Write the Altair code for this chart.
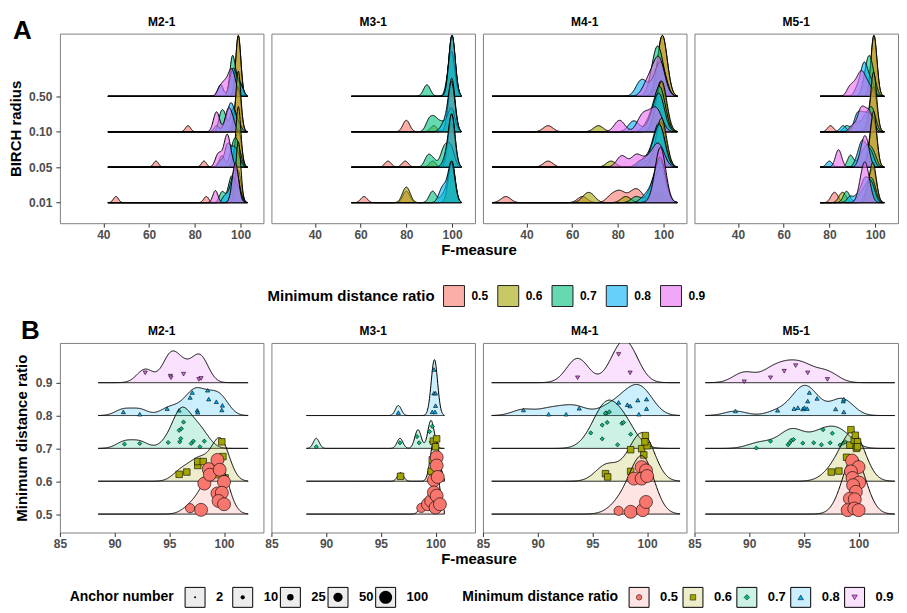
import altair as alt
import pandas as pd

# ---------------- categories / labels ----------------
PANELS = ["M2-1", "M3-1", "M4-1", "M5-1"]
RATIO_LABELS = ["0.5", "0.6", "0.7", "0.8", "0.9"]
RATIO_COLORS = ["#F8766D", "#A3A500", "#00BF7D", "#00B0F6", "#E76BF3"]
RATIO_SHAPES = ["circle", "square", "diamond", "triangle-up", "triangle-down"]
RADIUS_LABELS = ["0.01", "0.05", "0.10", "0.50"]
ANCHORS = [2, 10, 25, 50, 100]
A_TICKS = [40, 60, 80, 100]
B_TICKS = [85, 90, 95, 100]
B_YTICKS = [0.5, 0.6, 0.7, 0.8, 0.9]

# ---------------- Panel A: F-measure values per BIRCH radius, lists per ratio 0.5..0.9 ----------------
A_M2_1 = {
    "0.50": [[98.8, 98.9, 99.0, 99.0, 99.0, 99.0, 99.1, 99.1, 99.2, 99.3],
             [98.8, 98.9, 99.0, 99.0, 99.0, 99.0, 99.1, 99.1, 99.2, 98.9],
             [96.0, 96.2, 96.3, 96.4, 96.5, 96.8, 97.5, 98.5, 99.5, 100.5],
             [91.0, 91.6, 95.5, 96.0, 96.5, 97.0, 97.5, 98.0, 99.5, 100.6],
             [90.5, 92.0, 93.0, 94.0, 95.0, 95.5, 96.0, 96.5, 97.0, 98.0]],
    "0.10": [[77.0, 97.0, 98.0, 98.5, 99.0, 99.0, 99.0, 99.2, 99.5, 100.0],
             [98.7, 98.9, 99.0, 99.0, 99.0, 99.1, 99.1, 99.2, 99.3, 98.9],
             [91.0, 91.5, 92.0, 93.0, 93.5, 96.0, 96.5, 97.0, 97.5, 98.5],
             [89.5, 93.0, 94.5, 95.0, 95.5, 96.0, 96.5, 97.0, 98.0, 99.5],
             [88.5, 89.2, 89.8, 90.5, 93.5, 94.2, 94.8, 95.3, 96.0, 97.0]],
    "0.05": [[63.0, 84.0, 97.0, 98.0, 98.5, 99.0, 99.0, 99.5, 99.8, 100.0],
             [98.7, 98.9, 99.0, 99.0, 99.0, 99.1, 99.1, 99.2, 99.3, 99.0],
             [91.5, 92.2, 95.5, 96.5, 97.0, 97.5, 98.0, 98.5, 99.0, 100.0],
             [91.0, 93.5, 94.0, 94.5, 95.0, 96.0, 97.0, 97.5, 98.3, 99.5],
             [89.5, 90.5, 91.5, 93.0, 93.5, 94.0, 94.2, 94.5, 95.0, 96.0]],
    "0.01": [[45.5, 85.0, 96.0, 97.0, 98.0, 98.5, 99.0, 99.0, 99.5, 100.0],
             [98.8, 99.0, 99.0, 99.1, 99.2, 99.0, 99.0, 98.9, 99.1, 99.0],
             [91.5, 92.5, 95.0, 95.5, 96.0, 96.5, 97.0, 98.0, 99.0, 100.0],
             [93.0, 95.0, 96.0, 96.8, 97.3, 97.6, 98.0, 98.3, 98.8, 99.6],
             [88.8, 89.2, 96.5, 97.0, 97.3, 97.6, 97.9, 98.2, 98.5, 99.0]],
}
A_M3_1 = {
    "0.50": [[99.5, 99.8, 99.9, 100.0, 100.0, 100.0, 100.0, 100.0, 100.1, 100.2],
             [99.8, 99.9, 100.0, 100.0, 100.0, 100.0, 100.0, 100.0, 100.1, 100.0],
             [88.5, 89.5, 98.5, 99.0, 99.5, 100.0, 100.0, 100.0, 100.0, 100.2],
             [99.8, 99.9, 100.0, 100.0, 100.0, 100.0, 100.0, 100.0, 100.1, 100.2]],
    "0.10": [[79.5, 80.5, 99.0, 99.5, 100.0, 100.0, 100.0, 100.0, 100.0, 100.0],
             [92.0, 99.0, 99.5, 100.0, 100.0, 100.0, 100.0, 100.0, 100.0, 100.0],
             [89.5, 90.5, 92.0, 93.0, 95.0, 97.0, 99.0, 100.0, 100.0, 100.0],
             [96.0, 98.0, 99.0, 99.5, 100.0, 100.0, 100.0, 100.0, 100.0, 100.0]],
    "0.05": [[72.0, 79.5, 98.0, 99.0, 99.5, 100.0, 100.0, 100.0, 100.0, 100.0],
             [91.5, 99.0, 99.5, 100.0, 100.0, 100.0, 100.0, 100.0, 100.0, 100.0],
             [89.0, 90.0, 92.0, 95.5, 96.5, 97.0, 98.0, 99.0, 100.0, 100.0],
             [97.0, 98.5, 99.5, 100.0, 100.0, 100.0, 100.0, 100.0, 100.0, 100.0]],
    "0.01": [[61.5, 79.5, 80.5, 99.0, 99.5, 100.0, 100.0, 100.0, 100.0, 100.0],
             [79.0, 80.0, 81.0, 99.0, 100.0, 100.0, 100.0, 100.0, 100.0, 100.0],
             [91.0, 92.0, 96.0, 98.0, 99.0, 100.0, 100.0, 100.0, 100.0, 100.0],
             [95.0, 96.0, 97.0, 98.5, 99.5, 100.0, 100.0, 100.0, 100.0, 100.0]],
}
A_M4_1 = {
    "0.50": [[99.0, 99.3, 99.5, 99.5, 99.6, 99.5, 99.7, 99.4, 99.5, 99.5],
             [99.0, 99.3, 99.5, 99.5, 99.6, 99.5, 99.7, 99.4, 99.5, 99.8],
             [95.0, 96.0, 96.5, 97.0, 97.0, 97.5, 98.0, 98.5, 99.0, 100.0],
             [89.0, 90.5, 91.5, 95.0, 97.0, 98.0, 98.5, 99.0, 99.5, 100.0],
             [92.0, 93.5, 95.0, 96.0, 97.0, 97.5, 98.0, 98.5, 99.0, 100.0]],
    "0.10": [[49.5, 97.0, 98.0, 98.5, 99.0, 99.5, 99.5, 100.0, 99.0, 98.0],
             [71.5, 97.0, 98.0, 99.0, 99.5, 99.5, 99.5, 99.8, 100.0, 99.0],
             [93.0, 95.0, 96.5, 97.5, 98.0, 98.0, 98.5, 99.0, 99.5, 100.0],
             [86.0, 88.0, 94.0, 96.0, 97.0, 97.5, 98.0, 98.5, 99.0, 99.5],
             [80.0, 81.5, 89.5, 91.0, 92.0, 94.0, 95.5, 96.5, 97.5, 98.5]],
    "0.05": [[49.5, 92.0, 97.0, 98.0, 98.5, 99.0, 99.5, 99.5, 100.0, 99.0],
             [77.0, 96.0, 98.0, 98.5, 99.0, 99.5, 99.5, 99.8, 100.0, 99.0],
             [91.0, 94.0, 96.0, 97.0, 97.5, 98.0, 98.0, 98.5, 99.0, 100.0],
             [90.0, 94.0, 96.0, 97.0, 97.5, 98.0, 98.5, 99.0, 99.5, 100.0],
             [81.0, 82.5, 87.5, 88.5, 92.0, 95.0, 96.5, 97.5, 98.5, 99.5]],
    "0.01": [[31.0, 64.5, 77.0, 80.0, 82.0, 86.0, 88.0, 90.0, 97.0, 99.0],
             [66.0, 68.5, 83.5, 95.0, 97.0, 98.0, 98.5, 99.0, 99.5, 100.0],
             [88.0, 94.0, 96.0, 97.0, 98.0, 98.5, 99.0, 99.0, 99.5, 100.0],
             [92.0, 95.0, 96.5, 97.5, 98.0, 98.5, 99.0, 99.0, 99.5, 100.0],
             [96.5, 97.5, 98.0, 98.3, 98.5, 98.7, 99.0, 99.3, 99.6, 100.0]],
}
A_M5_1 = {
    "0.50": [[99.2, 99.4, 99.5, 99.5, 99.6, 99.5, 99.4, 99.6, 99.5, 99.5],
             [99.2, 99.4, 99.5, 99.5, 99.6, 99.5, 99.4, 99.6, 99.5, 99.7],
             [95.0, 96.0, 96.5, 97.0, 97.2, 97.5, 98.0, 98.5, 99.0, 100.0],
             [92.0, 93.5, 94.5, 95.0, 95.2, 95.5, 96.0, 97.0, 98.0, 99.0],
             [88.5, 90.0, 91.5, 92.5, 93.5, 94.0, 94.5, 95.5, 96.5, 98.0]],
    "0.10": [[80.5, 97.0, 98.0, 98.5, 99.0, 99.5, 99.5, 99.5, 100.0, 100.0],
             [98.8, 99.0, 99.2, 99.3, 99.4, 99.5, 99.5, 99.6, 99.8, 99.0],
             [87.5, 91.0, 93.0, 95.0, 96.0, 97.0, 98.0, 98.5, 99.0, 100.0],
             [86.0, 91.5, 92.0, 93.0, 94.0, 95.0, 96.0, 97.0, 98.0, 99.0],
             [90.0, 92.5, 93.5, 94.0, 94.5, 95.5, 96.5, 97.0, 98.0, 99.0]],
    "0.05": [[97.0, 98.0, 98.5, 99.0, 99.0, 99.5, 99.5, 100.0, 100.0, 99.8],
             [98.0, 98.5, 99.0, 99.2, 99.4, 99.5, 99.5, 99.6, 99.8, 100.0],
             [89.0, 89.5, 93.0, 94.5, 95.5, 96.5, 97.0, 98.0, 99.0, 100.0],
             [80.0, 92.0, 93.5, 94.0, 94.5, 95.0, 96.0, 97.0, 98.0, 99.0],
             [83.5, 84.0, 84.5, 93.5, 94.5, 95.0, 95.5, 96.0, 96.5, 97.0]],
    "0.01": [[81.5, 83.0, 96.0, 97.5, 98.0, 98.5, 99.0, 99.5, 100.0, 100.0],
             [85.0, 86.5, 97.0, 98.0, 98.5, 99.0, 99.0, 99.5, 100.0, 99.5],
             [87.0, 88.0, 93.0, 95.0, 96.0, 97.0, 98.0, 98.5, 99.0, 100.0],
             [89.0, 92.0, 94.0, 95.0, 95.5, 96.0, 97.0, 98.0, 98.5, 99.5],
             [93.0, 94.0, 94.5, 95.0, 95.3, 95.6, 96.0, 96.5, 97.0, 98.0]],
}
A_DATA = [A_M2_1, A_M3_1, A_M4_1, A_M5_1]
A_EXTENT = [[42, 103], [56, 104], [25, 106], [76, 104]]
A_BW = [1.1, 1.4, 2.1, 1.3]

# ---------------- Panel B: (F-measure, vertical jitter, anchor number) per ratio ----------------
B_M2_1 = {
    "0.5": [(96.9, .018, 50), (97.9, .013, 100), (98.2, .093, 100), (98.6, .137, 100), (98.7, .12, 100),
            (99.4, .165, 100), (99.6, .135, 100), (100.0, .098, 100), (99.4, .063, 100), (99.8, .065, 100),
            (99.5, .04, 100), (100.0, .03, 100)],
    "0.6": [(95.9, .021, 25), (96.6, .028, 25), (97.6, .048, 25), (97.6, .06, 25), (98.1, .06, 25),
            (99.0, .03, 25), (99.3, .05, 25), (99.5, .02, 25), (99.7, .04, 25), (99.8, .12, 25),
            (99.9, .075, 25), (100.1, .01, 25)],
    "0.7": [(90.9, .013, 10), (92.3, .015, 10), (94.9, .018, 10), (95.9, .055, 10), (95.95, .02, 10),
            (96.1, .06, 10), (96.05, .03, 10), (96.3, .08, 10), (97.0, .015, 10), (97.2, .022, 10),
            (97.8, .005, 10), (98.2, .022, 10)],
    "0.8": [(90.8, .011, 10), (92.3, .004, 10), (94.8, .021, 10), (95.9, .016, 10), (96.9, .055, 10),
            (97.1, .07, 10), (97.55, .016, 10), (97.6, .01, 10), (98.5, .077, 10), (98.6, .05, 10),
            (99.3, .042, 10), (99.85, .031, 10), (99.8, .017, 10)],
    "0.9": [(92.8, .03, 10), (95.1, .02, 10), (95.15, .015, 10), (96.3, .026, 10), (97.7, .01, 10),
            (97.9, .013, 10)],
}
B_M3_1 = {
    "0.5": [(98.7, .019, 50), (99.3, .03, 100), (99.6, .04, 100), (99.85, .103, 100), (99.85, .066, 100),
            (100.0, .02, 100), (100.1, .173, 100), (100.1, .148, 100), (100.1, .056, 100), (100.2, .113, 100),
            (100.4, .03, 100)],
    "0.6": [(96.8, .015, 25), (99.6, .03, 25), (99.7, .065, 25), (99.8, .122, 25), (100.0, .105, 25),
            (100.1, .129, 25), (100.1, .043, 25), (100.3, .02, 25)],
    "0.7": [(89.1, .005, 10), (96.75, .017, 10), (98.3, .036, 10), (98.5, .017, 10), (99.45, .051, 10),
            (99.7, .067, 10), (99.6, .02, 10)],
    "0.8": [(96.6, .009, 10), (99.7, .011, 10), (99.85, .14, 10), (99.85, .068, 10), (100.0, .068, 10),
            (100.0, .03, 10), (99.95, .011, 10)],
}
B_M4_1 = {
    "0.5": [(97.4, .01, 50), (98.5, .007, 100), (99.6, .012, 100), (99.9, .037, 100), (99.5, .143, 100),
            (99.9, .133, 100), (98.8, .108, 100), (99.5, .108, 100), (100.0, .116, 100)],
    "0.6": [(96.2, .023, 25), (96.4, .013, 25), (98.5, .03, 25), (98.5, .096, 25), (99.5, .099, 25),
            (99.85, .139, 25), (100.0, .108, 25), (99.8, .12, 25), (99.7, .08, 25)],
    "0.7": [(94.85, .047, 10), (95.9, .029, 10), (95.9, .071, 10), (96.35, .079, 10), (96.2, .107, 10),
            (96.55, .111, 10), (97.7, .076, 10), (97.85, .079, 10), (97.3, .011, 10), (98.5, .043, 10)],
    "0.8": [(88.7, .017, 10), (91.0, .004, 10), (92.6, .004, 10), (93.8, .022, 10), (96.25, .009, 10),
            (97.4, .04, 10), (98.2, .033, 10), (98.45, .029, 10), (99.15, .047, 10), (99.95, .05, 10),
            (99.95, .021, 10), (99.25, .004, 10)],
    "0.9": [(93.65, .015, 10), (97.4, .086, 10), (98.45, .03, 10)],
}
B_M5_1 = {
    "0.5": [(99.4, .163, 100), (100.0, .143, 100), (99.3, .13, 100), (99.45, .11, 100), (100.05, .096, 100),
            (99.5, .088, 100), (99.75, .068, 100), (99.2, .047, 100), (99.65, .045, 100), (99.0, .012, 100),
            (99.6, .017, 100), (100.0, .012, 100)],
    "0.6": [(97.5, .028, 25), (98.2, .031, 25), (98.9, .073, 25), (99.2, .11, 25), (99.3, .157, 25),
            (99.6, .125, 25), (99.7, .14, 25), (99.8, .10, 25), (99.9, .12, 25), (99.9, .105, 25)],
    "0.7": [(90.65, .001, 10), (91.95, .022, 10), (93.55, .011, 10), (93.7, .017, 10), (93.85, .024, 10),
            (94.05, .027, 10), (94.9, .016, 10), (95.9, .017, 10), (96.6, .011, 10), (96.75, .057, 10),
            (97.4, .017, 10), (97.6, .046, 10), (98.3, .01, 10), (98.6, .016, 10), (98.8, .02, 10)],
    "0.8": [(88.75, .014, 10), (92.6, .016, 10), (94.1, .021, 10), (94.45, .024, 10), (94.9, .02, 10),
            (95.05, .024, 10), (95.3, .021, 10), (95.35, .044, 10), (95.5, .07, 10), (96.2, .052, 10),
            (97.9, .02, 10), (98.6, .044, 10), (98.65, .05, 10), (98.65, .011, 10)],
    "0.9": [(89.55, .003, 10), (91.95, .015, 10), (93.2, .035, 10), (94.25, .052, 10), (95.35, .03, 10),
            (97.15, .01, 10)],
}
B_DATA = [B_M2_1, B_M3_1, B_M4_1, B_M5_1]
B_EXTENT = [[88.5, 102.2], [88.2, 100.8], [85.8, 103.0], [86.0, 103.3]]
B_BW = [0.75, 0.27, 1.0, 1.0]

# ---------------- layout / style ----------------
FONT = "Liberation Sans"
PW, PH = 204, 190
A_XDOM = [21, 110]
A_YDOM = [-0.58, 4.77]
A_H = 1.72
B_XDOM = [85, 103.6]
B_YDOM = [0.444, 1.021]
B_H = [0.161, 0.17, 0.178, 0.178]

cscale = alt.Scale(domain=RATIO_LABELS, range=RATIO_COLORS)
shscale = alt.Scale(domain=RATIO_LABELS, range=RATIO_SHAPES)
szscale = alt.Scale(domain=[2, 100], range=[4, 169])


def frame_a(data):
    rows = []
    for rad in RADIUS_LABELS:
        for rl, vals in zip(RATIO_LABELS, data[rad]):
            for v in vals:
                rows.append({"radius": rad, "base": RADIUS_LABELS.index(rad), "rl": rl, "v": v})
    return pd.DataFrame(rows)


def frame_b(data):
    rows = []
    for rl, pts in data.items():
        for v, off, anc in pts:
            rows.append({"rl": rl, "base": float(rl), "v": v, "y": float(rl) + off, "anchor": anc})
    return pd.DataFrame(rows)


radius_expr = " : ".join(
    [f"datum.value === {i} ? '{lab}'" for i, lab in enumerate(RADIUS_LABELS[:-1])] + [f"'{RADIUS_LABELS[-1]}'"]
)


def label_mark(t, dx, dy, size, align="left", baseline="top"):
    return alt.Chart(pd.DataFrame({"t": [t]})).mark_text(
        align=align, baseline=baseline, fontSize=size, fontWeight="bold", color="black"
    ).encode(text="t:N", x=alt.value(dx), y=alt.value(dy))


def extras(i, letter, letter_dx, letter_dy):
    out = [label_mark(PANELS[i], PW / 2, -7.5, 12, align="center", baseline="alphabetic")]
    if i == 0:
        out.append(label_mark(letter, letter_dx, letter_dy, 26))
    if i == 1:
        out.append(label_mark("F-measure", PW + 4, PH + 20, 15, align="center"))
    return out


def panel_a(i):
    df = frame_a(A_DATA[i])
    x = alt.X("v:Q", scale=alt.Scale(domain=A_XDOM, nice=False, zero=False),
              axis=alt.Axis(title=None, values=A_TICKS, labelFlush=False))
    if i == 0:
        y = alt.Y("top:Q", scale=alt.Scale(domain=A_YDOM, nice=False, zero=False),
                  axis=alt.Axis(title="BIRCH radius", values=[0, 1, 2, 3], labelExpr=radius_expr, titlePadding=5))
    else:
        y = alt.Y("top:Q", scale=alt.Scale(domain=A_YDOM, nice=False, zero=False), axis=None)
    layers = []
    for rad in reversed(RADIUS_LABELS):
        layers.append(
            alt.Chart(df)
            .transform_density("v", groupby=["radius", "base", "rl"], extent=A_EXTENT[i],
                               bandwidth=A_BW[i], steps=400, as_=["v", "dens"])
            .transform_joinaggregate(maxd="max(dens)")
            .transform_filter(alt.datum.radius == rad)
            .transform_calculate(top=f"datum.base + datum.dens / datum.maxd * {A_H}")
            .mark_area(stroke="black", strokeWidth=1, fillOpacity=0.6, opacity=1, clip=True)
            .encode(x=x, y=y, y2="base:Q", fill=alt.Fill("rl:N", scale=cscale, legend=None))
        )
    layers += extras(i, "A", -47, -16)
    return alt.layer(*layers).properties(width=PW, height=PH)


def panel_b(i):
    data = B_DATA[i]
    df = frame_b(data)
    x = alt.X("v:Q", scale=alt.Scale(domain=B_XDOM, nice=False, zero=False),
              axis=alt.Axis(title=None, values=B_TICKS, labelFlush=False))
    ysc = alt.Scale(domain=B_YDOM, nice=False, zero=False)
    if i == 0:
        yax = alt.Axis(title="Minimum distance ratio", values=B_YTICKS, format=".1f", titlePadding=6)
    else:
        yax = None
    layers = []
    for rl in reversed(RATIO_LABELS):
        if rl not in data:
            continue
        layers.append(
            alt.Chart(df)
            .transform_density("v", groupby=["rl", "base"], extent=B_EXTENT[i],
                               bandwidth=B_BW[i], steps=400, as_=["v", "dens"])
            .transform_joinaggregate(maxd="max(dens)")
            .transform_filter(alt.datum.rl == rl)
            .transform_calculate(top=f"datum.base + datum.dens / datum.maxd * {B_H[i]}")
            .mark_area(stroke="black", strokeWidth=1, fillOpacity=0.2, opacity=1, clip=True)
            .encode(x=x, y=alt.Y("top:Q", scale=ysc, axis=yax), y2="base:Q",
                    fill=alt.Fill("rl:N", scale=cscale, legend=None))
        )
        layers.append(
            alt.Chart(df)
            .transform_filter(alt.datum.rl == rl)
            .mark_point(filled=True, stroke="black", strokeWidth=0.6, opacity=1)
            .encode(x=x, y=alt.Y("y:Q", scale=ysc, axis=yax),
                    fill=alt.Fill("rl:N", scale=cscale, legend=None),
                    shape=alt.Shape("rl:N", scale=shscale, legend=None),
                    size=alt.Size("anchor:Q", scale=szscale, legend=None))
        )
    layers += extras(i, "B", -39, -25)
    return alt.layer(*layers).properties(width=PW, height=PH)


def title_text(t, xr, yc, size):
    return alt.Chart(pd.DataFrame({"t": [t]})).mark_text(
        align="right", baseline="middle", fontSize=size, fontWeight="bold", color="black"
    ).encode(text="t:N", x=alt.value(xr), y=alt.value(yc))


# legend positions are measured from the left edge of the first panel
# ---------------- legend A ----------------
leg_df = pd.DataFrame({"rl": RATIO_LABELS})
xa_leg = alt.X("rl:N", scale=alt.Scale(type="point", domain=RATIO_LABELS, range=[395, 612.5], padding=0), axis=None)
legA_boxes = alt.Chart(leg_df).mark_square(size=441, fillOpacity=0.6, opacity=1, stroke="#222222",
                                           strokeWidth=1).encode(
    x=xa_leg, y=alt.value(12), fill=alt.Fill("rl:N", scale=cscale, legend=None))
legA_labels = alt.Chart(leg_df).mark_text(align="left", baseline="middle", dx=17.5, fontSize=12,
                                          fontWeight="bold", color="black").encode(
    x=xa_leg, y=alt.value(12), text="rl:N")
leg_a = alt.layer(legA_boxes, legA_labels, title_text("Minimum distance ratio", 375.5, 12, 15)).properties(
    width=700, height=24, view=alt.ViewBackground(fill="white", stroke="transparent"))

# ---------------- legend B ----------------
anc_df = pd.DataFrame({"anchor": ANCHORS, "al": [str(a) for a in ANCHORS]})
x_anc = alt.X("al:N", scale=alt.Scale(type="point", domain=[str(a) for a in ANCHORS], range=[135.5, 326.5], padding=0),
              axis=None)
x_rat = alt.X("rl:N", scale=alt.Scale(type="point", domain=RATIO_LABELS, range=[580.5, 796.5], padding=0), axis=None)
legB = [
    title_text("Anchor number", 114, 10, 14),
    alt.Chart(anc_df).mark_square(size=400, fill="#EDEDED", fillOpacity=1, opacity=1, stroke="black",
                                  strokeWidth=1).encode(x=x_anc, y=alt.value(10)),
    alt.Chart(anc_df).mark_circle(color="black", opacity=1).encode(
        x=x_anc, y=alt.value(10), size=alt.Size("anchor:Q", scale=szscale, legend=None)),
    alt.Chart(anc_df).mark_text(align="left", baseline="middle", dx=21, fontSize=13, fontWeight="bold",
                                color="black").encode(x=x_anc, y=alt.value(10), text="al:N"),
    title_text("Minimum distance ratio", 559.5, 10, 14),
    alt.Chart(leg_df).mark_square(size=400, fillOpacity=0.2, opacity=1, stroke="black", strokeWidth=1).encode(
        x=x_rat, y=alt.value(10), fill=alt.Fill("rl:N", scale=cscale, legend=None)),
    alt.Chart(leg_df).mark_point(filled=True, size=30, stroke="black", strokeWidth=0.5, opacity=1).encode(
        x=x_rat, y=alt.value(10), fill=alt.Fill("rl:N", scale=cscale, legend=None),
        shape=alt.Shape("rl:N", scale=shscale, legend=None)),
    alt.Chart(leg_df).mark_text(align="left", baseline="middle", dx=21, fontSize=13, fontWeight="bold",
                                color="black").encode(x=x_rat, y=alt.value(10), text="rl:N"),
]
leg_b = alt.layer(*legB).resolve_scale(x="independent").properties(
    width=820, height=20, view=alt.ViewBackground(fill="white", stroke="transparent"))

# ---------------- assemble ----------------
row_a = alt.hconcat(*[panel_a(i) for i in range(4)], spacing=8, bounds="flush").resolve_scale(
    x="independent", y="independent")
row_b = alt.hconcat(*[panel_b(i) for i in range(4)], spacing=8, bounds="flush").resolve_scale(
    x="independent", y="independent")

block_a = alt.vconcat(row_a, leg_a, spacing=24).resolve_scale(x="independent", y="independent")
block_b = alt.vconcat(row_b, leg_b, spacing=16).resolve_scale(x="independent", y="independent")

chart = (
    alt.vconcat(block_a, block_b, spacing=8)
    .resolve_scale(x="independent", y="independent")
    .properties(padding={"left": 0, "top": 7, "right": 0, "bottom": 0})
    .configure(font=FONT)
    .configure_view(stroke="#7F7F7F", strokeWidth=1)
    .configure_axis(grid=False, domain=False, tickColor="#333333", tickSize=4, labelPadding=2,
                    labelColor="#4D4D4D", labelFontSize=12, labelFontWeight="bold",
                    titleFontSize=15, titleFontWeight="bold", titleColor="black")
    .configure_axisY(labelPadding=4)
)

chart.save("out.html", embed_options={"renderer": "svg", "actions": False})
